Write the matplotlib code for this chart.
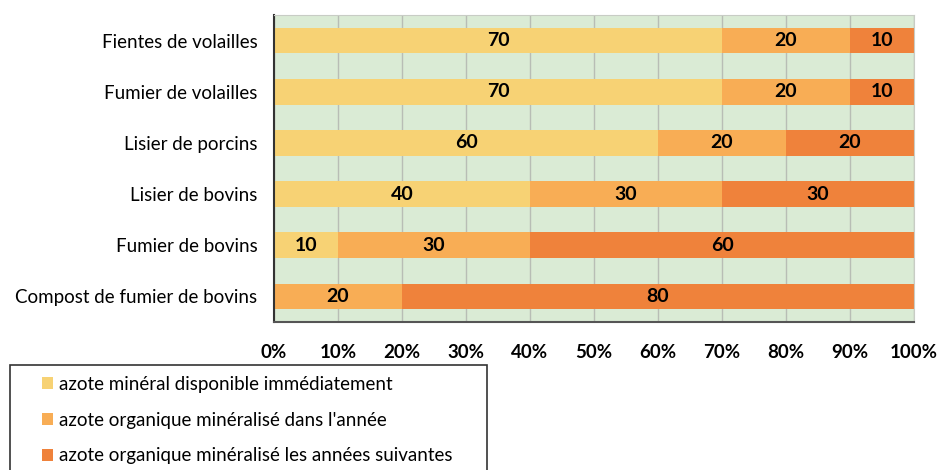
import numpy as np
import matplotlib.pyplot as plt
from matplotlib.patches import Patch, Rectangle

plt.rcParams["font.family"] = ["Lato", "DejaVu Sans"]

# ------------------------------------------------------------------ data
categories = ["Fientes de volailles", "Fumier de volailles", "Lisier de porcins",
              "Lisier de bovins", "Fumier de bovins", "Compost de fumier de bovins"]
mineral = [70, 70, 60, 40, 10, 0]
organique_annee = [20, 20, 20, 30, 30, 20]
organique_suivantes = [10, 10, 20, 30, 60, 80]

series_names = ["azote minéral disponible immédiatement",
                "azote organique minéralisé dans l'année",
                "azote organique minéralisé les années suivantes"]
colors = ["#F7D274", "#F8AD55", "#EF823B"]
x_ticks = [0, 10, 20, 30, 40, 50, 60, 70, 80, 90, 100]

# ------------------------------------------------------------------ plot
W, H = 939, 470
fig = plt.figure(figsize=(W / 100, H / 100), dpi=100)
ax = fig.add_axes([274 / W, 1 - 322 / H, 640 / W, 307 / H])
ax.set_facecolor("#DAEBD5")

y = np.arange(len(categories))
left = np.zeros(len(categories))
for vals, col in zip([mineral, organique_annee, organique_suivantes], colors):
    vals = np.array(vals, dtype=float)
    ax.barh(y, vals, left=left, height=0.5, color=col, zorder=2)
    for yi, v, l in zip(y, vals, left):
        if v > 0:
            ax.text(l + v / 2, yi, f"{int(v)}", ha="center", va="center",
                    fontsize=14, fontweight="bold", color="black", zorder=3)
    left += vals

ax.set_xlim(0, 100)
ax.set_ylim(len(categories) - 0.5, -0.5)
ax.set_xticks(x_ticks)
ax.set_xticklabels([f"{t}%" for t in x_ticks], fontsize=13.5, fontweight="bold")
ax.set_yticks(y)
ax.set_yticklabels(categories, fontsize=13.5)
ax.tick_params(length=0, pad=12)
ax.tick_params(axis="x", pad=16)
ax.grid(axis="x", color="#B8BDB5", linewidth=1, zorder=1)

for s in ["top", "right"]:
    ax.spines[s].set_color("#C8CCC5")
ax.spines["left"].set_color("#333333")
ax.spines["left"].set_linewidth(1.5)
ax.spines["bottom"].set_color("#555555")
ax.spines["bottom"].set_linewidth(1.5)

# legend: frame drawn separately so it runs off the bottom like the source
frame = Rectangle((10 / W, -0.05), (487 - 10) / W, 1 - 365 / H + 0.05,
                  transform=fig.transFigure, facecolor="white",
                  edgecolor="#333333", linewidth=1.2)
fig.add_artist(frame)

handles = [Patch(facecolor=c, edgecolor="none") for c in colors]
leg = fig.legend(handles, series_names, loc="upper left",
                 bbox_to_anchor=(42 / W, 1 - 376 / H), fontsize=13.5,
                 frameon=False, handlelength=0.6, handleheight=0.6,
                 handletextpad=0.3, labelspacing=1.0, borderpad=0,
                 borderaxespad=0)

fig.savefig("out.png", dpi=100)
